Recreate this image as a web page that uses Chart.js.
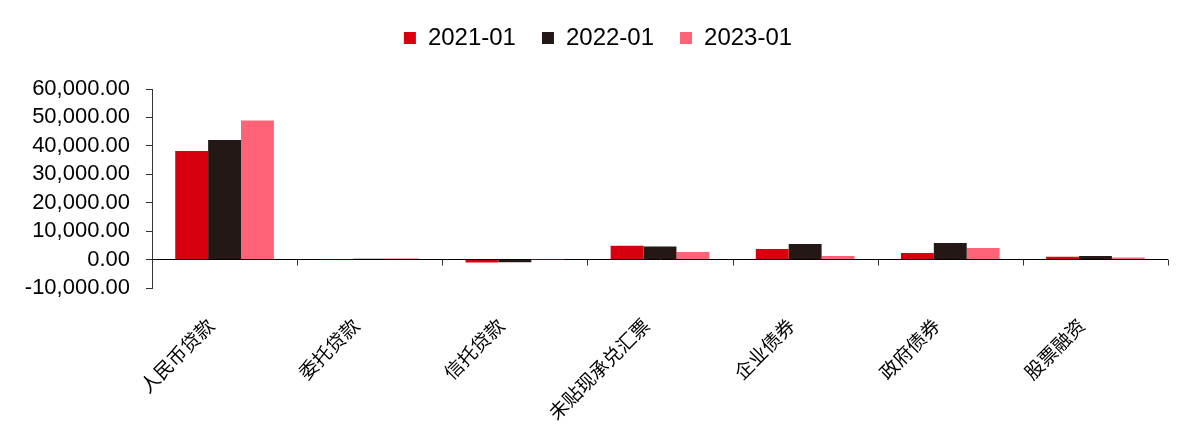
<!DOCTYPE html>
<html>
<head>
<meta charset="utf-8">
<script src="https://cdn.jsdelivr.net/npm/chart.js@4.4.0/dist/chart.umd.min.js"></script>
<style>
  html, body { margin: 0; padding: 0; background: #fff; }
  #wrap { width: 1182px; height: 432px; }
</style>
</head>
<body>
<div id="wrap"><canvas id="chart"></canvas></div>
<script>
// categories and series values
const categories = ['人民币贷款', '委托贷款', '信托贷款', '未贴现承兑汇票', '企业债券', '政府债券', '股票融资'];
const seriesNames = ['2021-01', '2022-01', '2023-01'];
const values2021 = [38200, -60, -1000, 4900, 3700, 2300, 950];
const values2022 = [42100, 300, -900, 4600, 5450, 5800, 1300];
const values2023 = [48900, 400, -60, 2700, 1300, 4100, 700];
const yTicks = [-10000, 0, 10000, 20000, 30000, 40000, 50000, 60000];

const colors = ['#D7000F', '#231815', '#FF6378'];

// small tick marks between categories on the zero line
const categoryTicks = {
    id: 'categoryTicks',
    afterDatasetsDraw(chart) {
        const x = chart.scales.x;
        const y = chart.scales.y;
        const y0 = y.getPixelForValue(0);
        const ctx = chart.ctx;
        ctx.save();
        ctx.strokeStyle = '#333';
        ctx.lineWidth = 1;
        for (let i = 0; i <= categories.length; i++) {
            const px = Math.round(x.getPixelForValue(i - 0.5)) + 0.5;
            ctx.beginPath();
            ctx.moveTo(px, y0);
            ctx.lineTo(px, y0 + 6);
            ctx.stroke();
        }
        ctx.restore();
    }
};

// extra space under the legend, and nudge it a bit to the right
const legendSpace = {
    id: 'legendSpace',
    beforeInit(chart) {
        const fit = chart.legend.fit;
        chart.legend.fit = function () {
            fit.call(this);
            this.height += 29;
        };
    },
    afterLayout(chart) {
        chart.legend.left += 14;
        chart.legend.right += 14;
    }
};

const datasets = [values2021, values2022, values2023].map((vals, i) => ({
    label: seriesNames[i],
    data: vals,
    backgroundColor: colors[i],
    borderWidth: 0,
    barPercentage: 1,
    categoryPercentage: 0.68
}));

new Chart(document.getElementById('chart'), {
    type: 'bar',
    data: { labels: categories, datasets: datasets },
    options: {
        responsive: true,
        maintainAspectRatio: false,
        animation: false,
        layout: { padding: { left: 0, right: 14, top: 0, bottom: 0 } },
        plugins: {
            legend: {
                position: 'top',
                labels: {
                    boxWidth: 12,
                    boxHeight: 12,
                    padding: 26,
                    color: '#000',
                    font: { family: '"Liberation Sans", Arial, sans-serif', size: 24 }
                }
            },
            tooltip: { enabled: false }
        },
        scales: {
            x: {
                grid: { display: false },
                border: { display: false },
                ticks: {
                    minRotation: 45,
                    maxRotation: 45,
                    autoSkip: false,
                    color: '#000',
                    padding: 18,
                    labelOffset: -14,
                    font: { family: '"Noto Sans CJK SC", sans-serif', size: 19 }
                },
                afterFit(scale) { scale.height = 144; }
            },
            y: {
                min: -10000,
                max: 60000,
                afterBuildTicks(scale) { scale.ticks = yTicks.map(v => ({ value: v })); },
                border: { display: true, color: '#333', width: 1 },
                grid: {
                    drawOnChartArea: true,
                    color: ctx => (ctx.tick && ctx.tick.value === 0 ? '#000' : 'rgba(0,0,0,0)'),
                    tickColor: '#333',
                    tickLength: 6
                },
                ticks: {
                    autoSkip: false,
                    color: '#000',
                    padding: 16,
                    font: { family: '"Liberation Sans", Arial, sans-serif', size: 22 },
                    callback: v => v.toLocaleString('en-US', { minimumFractionDigits: 2, maximumFractionDigits: 2 })
                },
                afterFit(scale) { scale.width = 152; }
            }
        }
    },
    plugins: [categoryTicks, legendSpace]
});
</script>
</body>
</html>
